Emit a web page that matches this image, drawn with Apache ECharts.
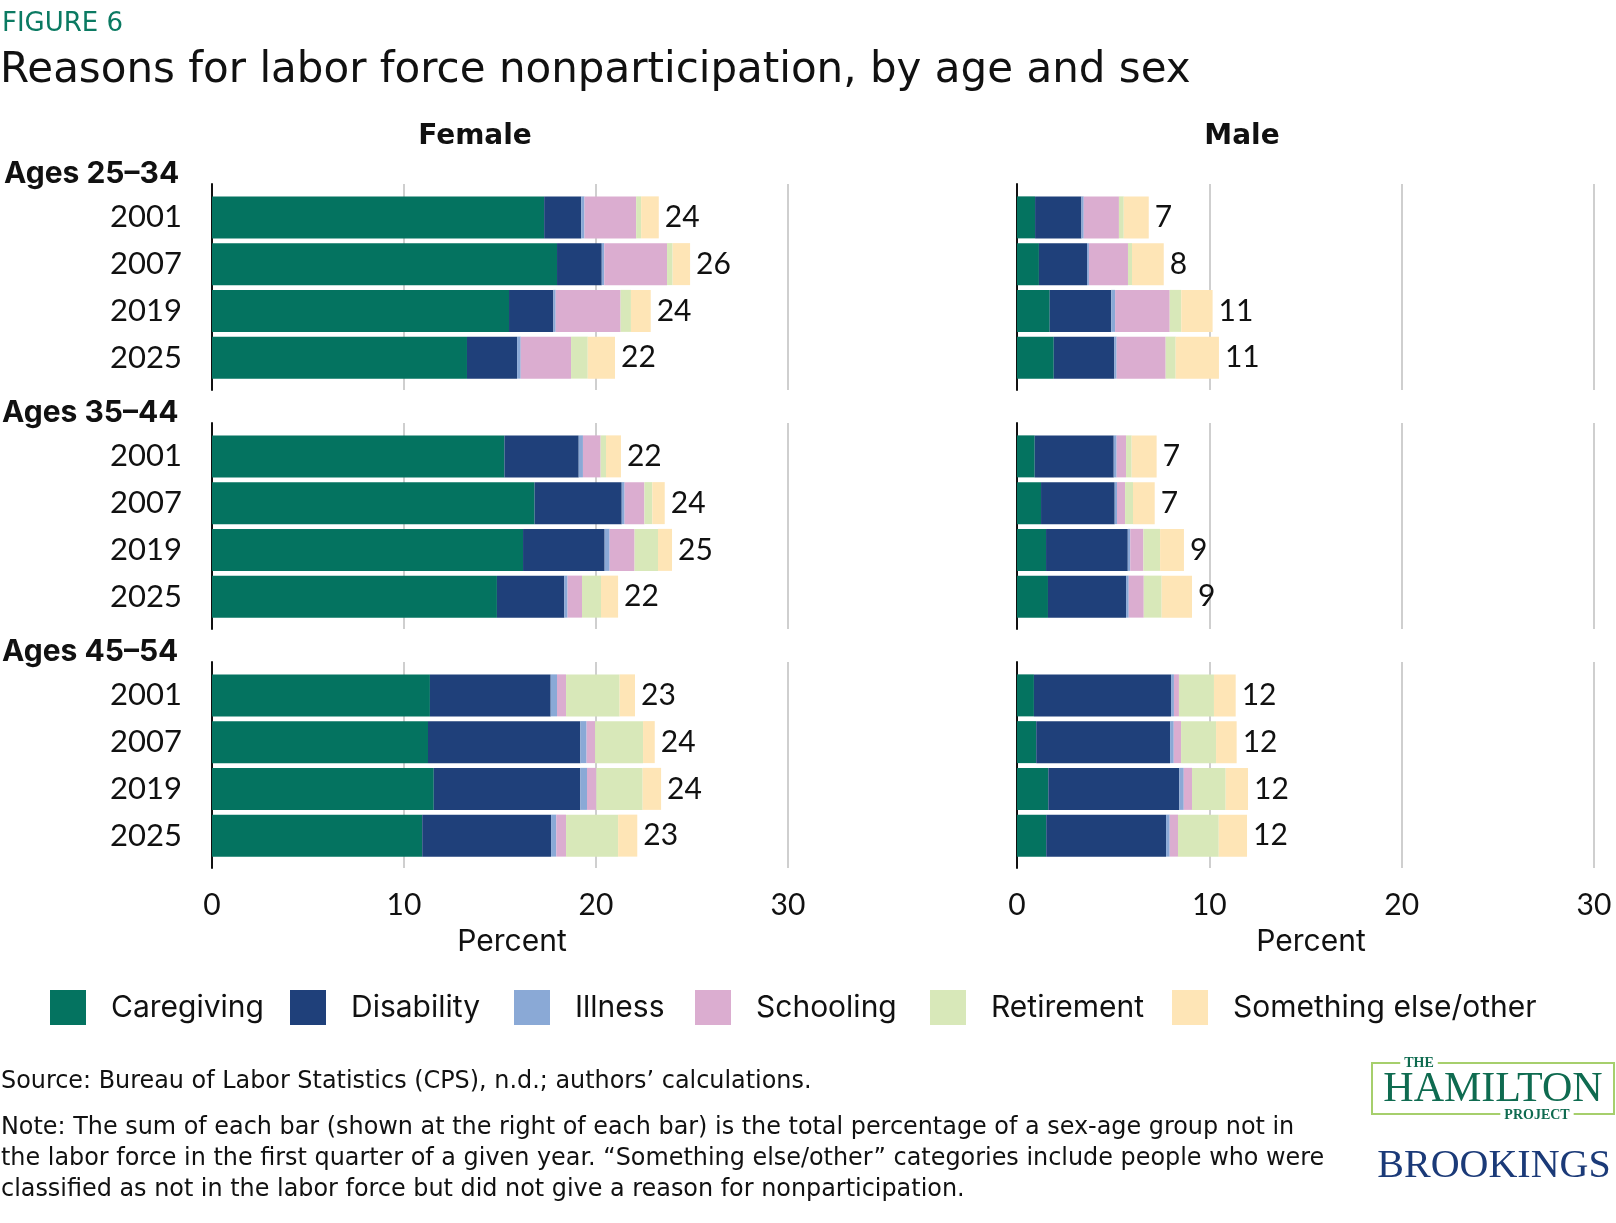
<!DOCTYPE html>
<html><head><meta charset="utf-8">
<script src="https://cdn.jsdelivr.net/npm/echarts@6/dist/echarts.min.js"></script>
<style>html,body{margin:0;padding:0;background:#fff}#c{width:1616px;height:1223px}</style>
</head><body><div id="c"></div>
<script>
// ---- Data ----
const years = ['2001', '2007', '2019', '2025'];
const ageGroups = ['Ages 25–34', 'Ages 35–44', 'Ages 45–54'];
const seriesNames = ['Caregiving', 'Disability', 'Illness', 'Schooling', 'Retirement', 'Something else/other'];
const xTicks = [0, 10, 20, 30];

// order: 25–34 (2001,2007,2019,2025), 35–44 (...), 45–54 (...)
const femaleCaregiving = [17.3, 17.97, 15.47, 13.28, 15.23, 16.8, 16.2, 14.84, 11.35, 11.25, 11.55, 10.95];
const femaleDisability = [1.93, 2.33, 2.31, 2.61, 3.87, 4.54, 4.25, 3.51, 6.29, 7.93, 7.63, 6.71];
const femaleIllness    = [0.17, 0.13, 0.12, 0.19, 0.22, 0.15, 0.26, 0.17, 0.33, 0.33, 0.35, 0.27];
const femaleSchooling  = [2.69, 3.27, 3.38, 2.62, 0.92, 1.03, 1.3, 0.75, 0.47, 0.44, 0.49, 0.51];
const femaleRetirement = [0.26, 0.29, 0.54, 0.87, 0.28, 0.41, 1.22, 0.99, 2.79, 2.5, 2.41, 2.71];
const femaleOther      = [0.92, 0.91, 1.03, 1.42, 0.78, 0.65, 0.73, 0.89, 0.8, 0.61, 0.96, 1.0];
const femaleTotals     = [24, 26, 24, 22, 22, 24, 25, 22, 23, 24, 24, 23];

const maleCaregiving = [0.94, 1.14, 1.7, 1.91, 0.92, 1.25, 1.51, 1.61, 0.88, 1.0, 1.63, 1.52];
const maleDisability = [2.41, 2.5, 3.2, 3.15, 4.11, 3.83, 4.25, 4.06, 7.13, 6.96, 6.81, 6.23];
const maleIllness    = [0.12, 0.1, 0.2, 0.12, 0.15, 0.12, 0.13, 0.14, 0.15, 0.19, 0.23, 0.19];
const maleSchooling  = [1.83, 2.03, 2.84, 2.55, 0.49, 0.42, 0.68, 0.78, 0.26, 0.38, 0.43, 0.43];
const maleRetirement = [0.25, 0.21, 0.6, 0.52, 0.29, 0.41, 0.87, 0.93, 1.82, 1.82, 1.75, 2.12];
const maleOther      = [1.3, 1.65, 1.63, 2.25, 1.3, 1.13, 1.24, 1.58, 1.13, 1.07, 1.16, 1.47];
const maleTotals     = [7, 8, 11, 11, 7, 7, 9, 9, 12, 12, 12, 12];

// ---- Style / layout ----
const colors = ['#047360', '#1f407a', '#8aa9d6', '#dbadd0', '#d8e8b9', '#fee5b6'];
const FONT = 'Lato, "Noto Sans", sans-serif';
const FONT2 = 'Inter, Lato, sans-serif';
const FONT3 = '"DejaVu Sans", Inter, sans-serif';
const TXT = '#111111';
const bandTops = [194, 433, 672];
const bandH = 187;

const panels = [
  { left: 212, width: 576, vals: [femaleCaregiving, femaleDisability, femaleIllness, femaleSchooling, femaleRetirement, femaleOther], totals: femaleTotals, yLabels: true },
  { left: 1017, width: 577, vals: [maleCaregiving, maleDisability, maleIllness, maleSchooling, maleRetirement, maleOther], totals: maleTotals, yLabels: false }
];

const grid = [], xAxis = [], yAxis = [], series = [];
panels.forEach((p, pi) => {
  for (let g = 0; g < 3; g++) {
    const fi = grid.length;
    grid.push({ left: p.left, width: p.width, top: bandTops[g] - 10, height: bandH + 19 });
    xAxis.push({
      gridIndex: fi, type: 'value', min: xTicks[0], max: xTicks[xTicks.length - 1], interval: 10,
      splitLine: { show: true, lineStyle: { color: '#cfcfcf', width: 2 } },
      axisLine: { show: false }, axisTick: { show: false },
      axisLabel: { show: g === 2, fontSize: 30, color: TXT, margin: 22, fontFamily: FONT }
    });
    yAxis.push({
      gridIndex: fi, type: 'value', min: 0, max: 1,
      axisLine: { show: true, onZero: false, lineStyle: { color: '#111', width: 2 } },
      axisLabel: { show: false }, axisTick: { show: false }, splitLine: { show: false }
    });
    const bi = grid.length;
    grid.push({ left: p.left, width: p.width, top: bandTops[g], height: bandH });
    xAxis.push({ gridIndex: bi, type: 'value', min: 0, max: 30, show: false });
    yAxis.push({
      gridIndex: bi, type: 'category', data: years, inverse: true,
      axisLine: { show: false }, axisTick: { show: false }, splitLine: { show: false },
      axisLabel: { show: p.yLabels, fontSize: 31, color: TXT, margin: 30, fontFamily: FONT }
    });
    seriesNames.forEach((name, k) => {
      const s = {
        type: 'bar', name, xAxisIndex: bi, yAxisIndex: bi, stack: 'st' + pi + '_' + g,
        barWidth: 42, data: p.vals[k].slice(g * 4, g * 4 + 4),
        itemStyle: { color: colors[k] }, emphasis: { disabled: true }, silent: true
      };
      if (k === seriesNames.length - 1) {
        s.label = {
          show: true, position: 'right', distance: 6, fontSize: 30, color: TXT, fontFamily: FONT,
          formatter: (prm) => String(p.totals[g * 4 + prm.dataIndex])
        };
      }
      series.push(s);
    });
  }
});

const legendLefts = [50, 290, 514, 695, 930, 1172];
const legend = seriesNames.map((n, i) => ({
  data: [n], left: legendLefts[i], top: 990, padding: 0, itemWidth: 36, itemHeight: 35, icon: 'rect',
  selectedMode: false, textStyle: { fontSize: 30, color: TXT, fontFamily: FONT2, padding: [0, 0, 0, 20] }
}));

function txt(text, x, y, font, fill, align, extra) {
  return { type: 'text', x, y, style: Object.assign({ text, font, fill: fill || TXT, textAlign: align || 'left', textVerticalAlign: 'middle' }, extra || {}) };
}

const graphic = [
  txt('FIGURE 6', 2, 24, '26px ' + FONT3, '#0b7a62'),
  txt('Reasons for labor force nonparticipation, by age and sex', 0, 71, '42px ' + FONT3, TXT),
  txt('Female', 475, 137, 'bold 28px ' + FONT3, TXT, 'center'),
  txt('Male', 1242, 137, 'bold 28px ' + FONT3, TXT, 'center'),
  txt(ageGroups[0], 4, 174, 'bold 30px ' + FONT2, TXT),
  txt(ageGroups[1], 2, 413, 'bold 30px ' + FONT2, TXT),
  txt(ageGroups[2], 2, 652, 'bold 30px ' + FONT2, TXT),
  txt('Percent', 512, 942, '30px ' + FONT2, TXT, 'center'),
  txt('Percent', 1311, 942, '30px ' + FONT2, TXT, 'center'),
  txt('Source: Bureau of Labor Statistics (CPS), n.d.; authors’ calculations.', 1, 1082, '23.9px ' + FONT3, TXT),
  txt('Note: The sum of each bar (shown at the right of each bar) is the total percentage of a sex-age group not in', 1, 1128, '23.9px ' + FONT3, TXT),
  txt('the labor force in the first quarter of a given year. “Something else/other” categories include people who were', 1, 1159, '23.9px ' + FONT3, TXT),
  txt('classified as not in the labor force but did not give a reason for nonparticipation.', 1, 1190, '23.9px ' + FONT3, TXT),
  { type: 'rect', shape: { x: 1372, y: 1063, width: 242, height: 51 }, style: { fill: 'none', stroke: '#a6cf6c', lineWidth: 2 } },
  txt('THE', 1419, 1063, 'bold 14px "Liberation Serif", serif', '#0f6b50', 'center', { backgroundColor: '#fff', padding: [0, 4] }),
  txt('HAMILTON', 1493, 1090, '42px "Liberation Serif", serif', '#0f6b50', 'center'),
  txt('PROJECT', 1537, 1115, 'bold 14px "Liberation Serif", serif', '#0f6b50', 'center', { backgroundColor: '#fff', padding: [0, 4] }),
  txt('BROOKINGS', 1494, 1166, '40px "Liberation Serif", serif', '#1b3a78', 'center')
];

const chart = echarts.init(document.getElementById('c'), null, { renderer: 'canvas' });
chart.setOption({
  backgroundColor: '#ffffff',
  animation: false,
  textStyle: { fontFamily: FONT },
  grid, xAxis, yAxis, series, legend, graphic
});
</script></body></html>
